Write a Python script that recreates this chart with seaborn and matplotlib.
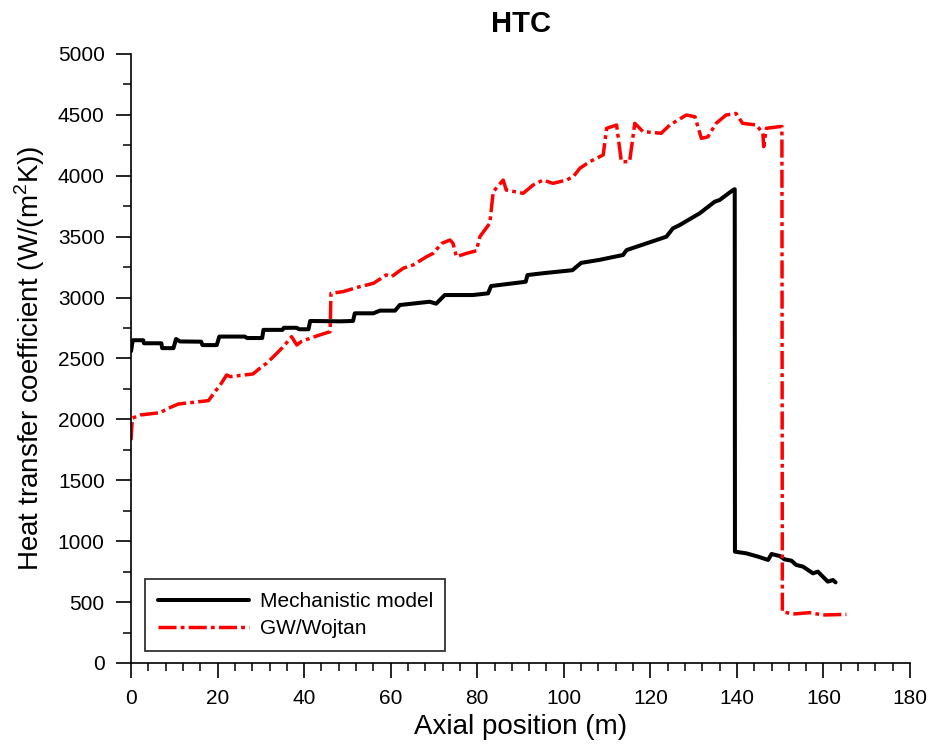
import matplotlib
matplotlib.use("Agg")
import matplotlib.pyplot as plt
from matplotlib.ticker import MultipleLocator
import seaborn as sns
import pandas as pd

# Mechanistic model: axial position (m) and heat transfer coefficient (W/(m2K))
mech_x = [0.0, 0.4, 2.8, 3.0, 7.0, 7.2, 9.8, 10.4, 11.3, 16.2, 16.5, 19.8, 20.4,
          26.3, 26.8, 30.3, 30.6, 35.0, 35.3, 38.3, 38.8, 41.0, 41.4, 48.3, 51.3,
          51.7, 56.0, 57.5, 61.0, 62.1, 69.0, 70.5, 72.5, 79.0, 82.5, 83.2, 91.2,
          91.6, 95.2, 102.0, 104.0, 108.3, 113.7, 114.5, 119.1, 123.7, 125.2,
          126.8, 131.4, 134.9, 136.0, 139.1, 139.5, 139.55, 142.2, 144.9, 147.2,
          148.0, 149.9, 151.0, 152.6, 153.7, 155.3, 156.4, 157.6, 158.7, 161.0,
          162.2, 162.8]
mech_y = [2560, 2650, 2650, 2625, 2625, 2585, 2585, 2660, 2640, 2638, 2610, 2610, 2680,
          2680, 2668, 2668, 2735, 2735, 2752, 2752, 2740, 2740, 2808, 2805, 2808,
          2871, 2871, 2893, 2893, 2939, 2966, 2950, 3021, 3021, 3035, 3095, 3130,
          3185, 3200, 3225, 3285, 3310, 3350, 3390, 3445, 3500, 3568,
          3596, 3692, 3788, 3801, 3883, 3890, 914, 900, 873, 846,
          895, 878, 851, 840, 805, 791, 764, 736, 750, 668,
          681, 662]

# GW/Wojtan correlation
gw_x = [0.0, 0.3, 2.1, 6.7, 8.6, 10.9, 17.9, 19.4, 20.6, 22.1, 22.9, 28.2, 30.2,
        31.3, 33.3, 35.2, 37.1, 38.3, 39.3, 41.3, 43.6, 46.0, 46.2, 49.0, 52.9,
        56.0, 59.0, 60.2, 62.9, 65.2, 68.3, 69.8, 71.8, 73.7, 74.4, 75.2, 77.5,
        79.8, 80.6, 82.9, 83.7, 86.0, 86.7, 90.6, 92.9, 95.2, 97.5, 100.6, 102.2,
        103.7, 106.0, 109.1, 109.9, 112.2, 113.3, 115.2, 116.4, 118.3, 122.5,
        124.5, 128.3, 130.3, 131.8, 133.3, 135.2, 137.5, 139.8, 141.3, 144.5,
        146.0, 146.2, 146.8, 149.9, 150.4, 150.5, 153.0, 156.8, 159.9, 165.3]
gw_y = [1830, 2010, 2036, 2055, 2091, 2126, 2154, 2228, 2282, 2365, 2351, 2373, 2433,
        2460, 2529, 2597, 2679, 2611, 2638, 2665, 2693, 2720, 3035, 3049, 3090,
        3117, 3186, 3172, 3241, 3268, 3336, 3363, 3445, 3473, 3445, 3336, 3363,
        3385, 3500, 3610, 3870, 3965, 3883, 3856, 3924, 3965, 3938, 3965, 3993,
        4061, 4116, 4171, 4390, 4417, 4116, 4116, 4431, 4363, 4349,
        4417, 4499, 4485, 4307, 4320, 4431, 4499, 4512, 4431, 4417,
        4349, 4239, 4390, 4404, 4404, 421, 402, 413, 394, 399]

labels = ["Mechanistic model", "GW/Wojtan"]
x_ticks = list(range(0, 181, 20))
y_ticks = list(range(0, 5001, 500))

sns.set_theme(style="white")
plt.rcParams["font.family"] = ["Liberation Sans", "DejaVu Sans"]
plt.rcParams["mathtext.fontset"] = "custom"
plt.rcParams["mathtext.rm"] = "Liberation Sans"
plt.rcParams["text.color"] = "black"
plt.rcParams["axes.labelcolor"] = "black"
plt.rcParams["xtick.color"] = "black"
plt.rcParams["ytick.color"] = "black"

fig = plt.figure(figsize=(9.3, 7.51), dpi=100)
ax = fig.add_axes([0.1409, 0.1172, 0.8376, 0.8109])

mech = pd.DataFrame({"x": mech_x, "y": mech_y})
gw = pd.DataFrame({"x": gw_x, "y": gw_y})

sns.lineplot(data=mech, x="x", y="y", ax=ax, color="black", linewidth=2.9,
             estimator=None, sort=False, label=labels[0])
sns.lineplot(data=gw, x="x", y="y", ax=ax, color="#ff0000", linewidth=2.5,
             estimator=None, sort=False, label=labels[1],
             linestyle=(0, (5.2, 1.2, 1.1, 1.2)))

ax.set_xlim(0, 180)
ax.set_ylim(0, 5000)
ax.set_xticks(x_ticks)
ax.set_yticks(y_ticks)
ax.xaxis.set_minor_locator(MultipleLocator(4))
ax.yaxis.set_minor_locator(MultipleLocator(250))

for side in ("top", "right"):
    ax.spines[side].set_visible(False)
for side in ("left", "bottom"):
    ax.spines[side].set_color("black")
    ax.spines[side].set_linewidth(1.2)

ax.tick_params(axis="both", which="major", direction="out", length=11, width=1.2,
               color="black", labelsize=15, labelcolor="black", pad=8,
               bottom=True, left=True)
ax.tick_params(axis="both", which="minor", direction="out", length=6, width=1.1,
               color="black", bottom=True, left=True)

ax.set_xlabel("Axial position (m)", fontsize=20, color="black", labelpad=4)
ax.set_ylabel("Heat transfer coefficient (W/(m$^2$K))", fontsize=20,
              color="black", labelpad=8)
ax.set_title("HTC", fontsize=21, fontweight="bold", color="black", pad=16)

leg = ax.legend(loc="lower left", bbox_to_anchor=(0.018, 0.02), fontsize=15,
                frameon=True, fancybox=False, handlelength=4.4,
                borderpad=0.6, labelspacing=0.4, handletextpad=0.5,
                borderaxespad=0)
leg.get_frame().set_edgecolor("black")
leg.get_frame().set_linewidth(1.3)
for t in leg.get_texts():
    t.set_color("black")

fig.savefig("out.png", dpi=100, facecolor="white")
